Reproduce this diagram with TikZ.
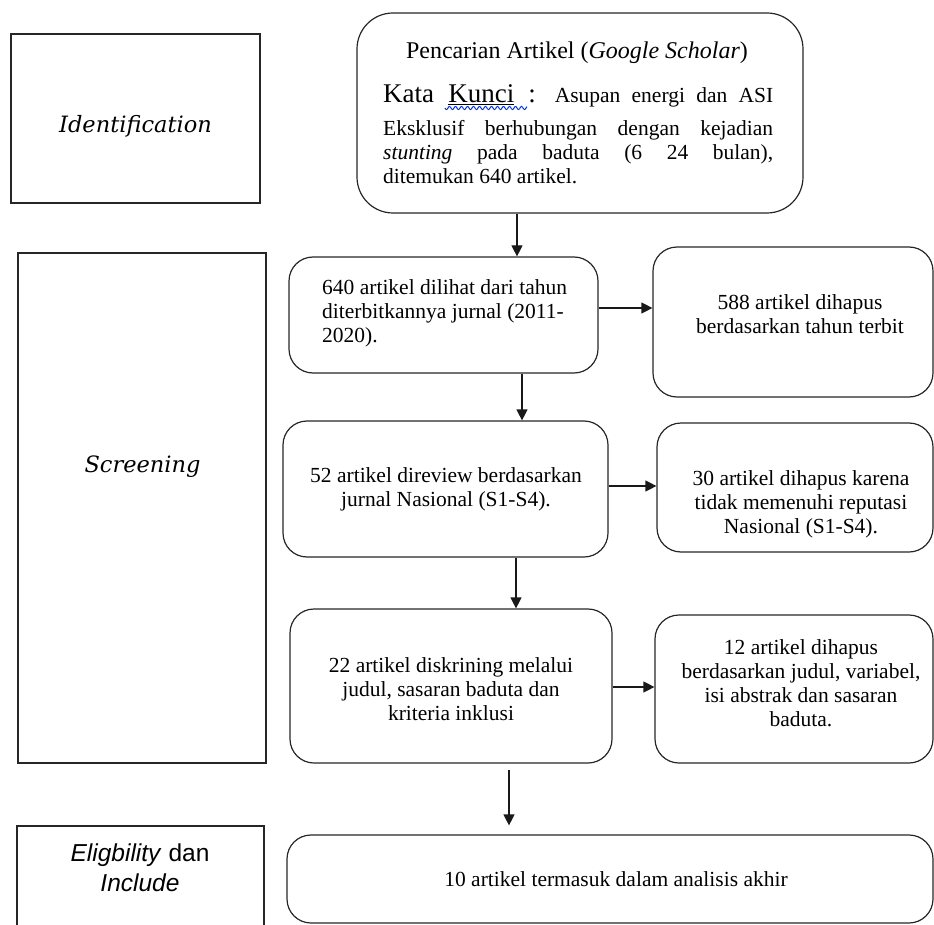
\documentclass[tikz,border=0pt]{standalone}
\usepackage{fontspec}
\setmainfont{Liberation Serif}
\newfontfamily\stagefont{DejaVu Serif}
\newfontfamily\eligfont{Liberation Sans}
\usetikzlibrary{arrows.meta}

\begin{document}
\begin{tikzpicture}[x=1pt,y=-1pt,
  stage/.style={draw=black!85, line width=1.2pt, inner sep=0},
  rbox/.style={draw=black!85, line width=1.2pt, rounded corners=24pt, inner sep=0},
  txt/.style={font=\fontsize{21.5}{24}\selectfont, align=center, inner sep=0},
  stagetxt/.style={font=\stagefont\fontsize{22.5}{26}\selectfont\itshape, inner sep=0},
  arr/.style={-{Triangle[length=11pt,width=11pt]}, line width=1.2pt, draw=black!90}]
\useasboundingbox (0,0) rectangle (934,925);
\node [stage, minimum width=249pt, minimum height=169pt] (ident) at (135.5,118.5) {};
\node [stage, minimum width=248pt, minimum height=510pt] (screen) at (142,508) {};
\node [stage, minimum width=247pt, minimum height=139pt] (elig) at (140.5,895.5) {};
\node [stagetxt, anchor=base] (identteks) at (135.5,133) {Identification};
\node [stagetxt, anchor=base] (screenteks) at (142.5,472) {Screening};
\node [anchor=north, align=center, inner sep=0, font=\eligfont\fontsize{24.5}{30}\selectfont] (eligteks) at (140,844) {\textit{Eligbility} dan\\ \textit{Include}};
\node [rbox, rounded corners=36pt, minimum width=446pt, minimum height=200pt] (cari) at (580,113) {};
\node [rbox, minimum width=309pt, minimum height=116pt] (lihat) at (443.5,315) {};
\node [rbox, minimum width=280pt, minimum height=150pt] (hapustahun) at (793,322) {};
\node [rbox, minimum width=325pt, minimum height=136pt] (review) at (445.5,489) {};
\node [rbox, minimum width=276pt, minimum height=129pt] (hapusrep) at (795,487.5) {};
\node [rbox, minimum width=322pt, minimum height=154pt] (skrining) at (451,686) {};
\node [rbox, minimum width=278pt, minimum height=148pt] (hapusjudul) at (794,689) {};
\node [rbox, minimum width=646pt, minimum height=88pt] (akhir) at (610,879) {};
\node [txt, font=\fontsize{24}{27}\selectfont, anchor=base] (carijudul) at (577,59) {Pencarian Artikel (\textit{Google Scholar})};
\node [txt, text width=390pt, align=justify, anchor=north west] (carikata) at (383,84) {{\fontsize{27}{31}\selectfont Kata \underline{Kunci} :} Asupan energi dan ASI\rule[-17pt]{0pt}{17pt}\linebreak Eksklusif berhubungan dengan kejadian\linebreak \textit{stunting} pada baduta (6 24 bulan),\linebreak ditemukan 640 artikel.};
\draw [blue!80!cyan, line width=1pt] plot [domain=0:82, samples=90] ({445+\x},{108+1.6*sin(\x*60)});
\node [txt, align=left, anchor=north west] (lihatteks) at (322,279) {640 artikel dilihat dari tahun\\ diterbitkannya jurnal (2011-\\ 2020).};
\node [txt, anchor=north] (hapustahunteks) at (800,294) {588 artikel dihapus\\ berdasarkan tahun terbit};
\node [txt, anchor=north] (reviewteks) at (446,467) {52 artikel direview berdasarkan\\ jurnal Nasional (S1-S4).};
\node [txt, anchor=north] (hapusrepteks) at (801,470) {30 artikel dihapus karena\\ tidak memenuhi reputasi\\ Nasional (S1-S4).};
\node [txt, anchor=north] (skriningteks) at (451,657) {22 artikel diskrining melalui\\ judul, sasaran baduta dan\\ kriteria inklusi};
\node [txt, anchor=north] (hapusjudulteks) at (801,639) {12 artikel dihapus\\ berdasarkan judul, variabel,\\ isi abstrak dan sasaran\\ baduta.};
\node [txt, anchor=base] (akhirteks) at (616,886.5) {10 artikel termasuk dalam analisis akhir};
\draw [arr] ([xshift=-63pt]cari.south) -- ([xshift=73.5pt]lihat.north);
\draw [arr] ([yshift=7pt]lihat.east) -- ([yshift=14pt]hapustahun.west);
\draw [arr] ([xshift=78.5pt]lihat.south) -- ([xshift=76.5pt]review.north);
\draw [arr] ([yshift=3pt]review.east) -- ([yshift=1.5pt]hapusrep.west);
\draw [arr] ([xshift=70.5pt]review.south) -- ([xshift=65pt]skrining.north);
\draw [arr] ([yshift=-1pt]skrining.east) -- ([yshift=2pt]hapusjudul.west);
\draw [arr, shorten <=6pt, shorten >=9pt] ([xshift=58pt]skrining.south) -- ([xshift=-101pt]akhir.north);
\end{tikzpicture}
\end{document}
